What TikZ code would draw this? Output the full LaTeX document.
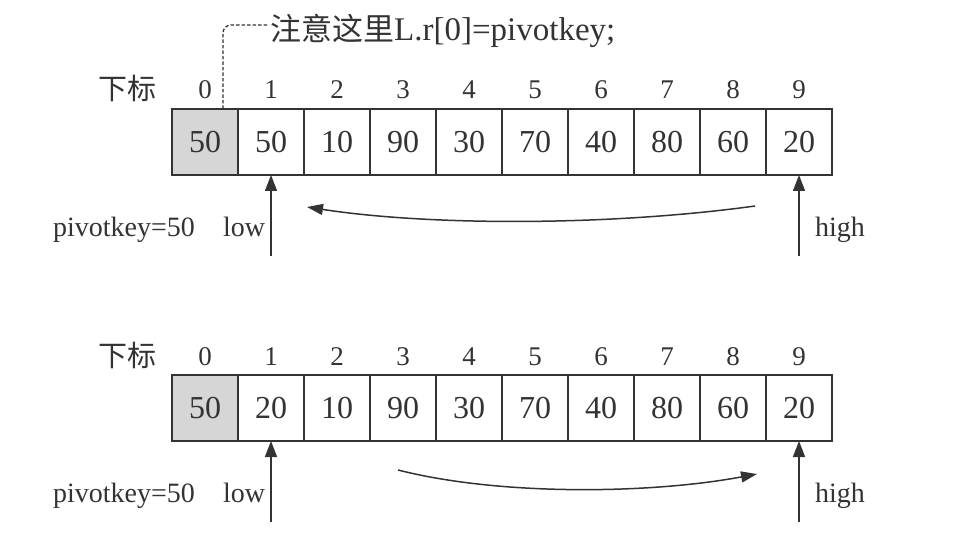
\documentclass[tikz,border=0pt]{standalone}
\usepackage{fontspec}
\setmainfont{Liberation Serif}
\newfontfamily\cjk{Noto Sans CJK SC}
\usetikzlibrary{arrows.meta}
\definecolor{ink}{HTML}{333333}
\definecolor{shade}{HTML}{D6D6D6}
\begin{document}
\begin{tikzpicture}[x=1pt,y=-1pt,
  cellbox/.style={draw=ink,line width=1.6pt,minimum width=66pt,minimum height=66pt,inner sep=0pt,outer sep=0pt,text=ink,font=\fontsize{32}{32}\selectfont},
  shadedbox/.style={cellbox,fill=shade},
  idx/.style={text=ink,font=\fontsize{27}{27}\selectfont,inner sep=0pt},
  lbl/.style={text=ink,font=\fontsize{28}{28}\selectfont,inner sep=0pt,anchor=base},
  hanzi/.style={text=ink,font=\cjk\fontsize{29}{29}\selectfont,inner sep=0pt},
  ptr/.style={draw=ink,line width=1.5pt,-{Triangle[length=16pt,width=12pt]}},
  bendarr/.style={draw=ink,line width=1.5pt,-{Triangle[length=16pt,width=11pt]}},
  dashline/.style={draw=ink,line width=1.3pt,dash pattern=on 3.5pt off 2pt,rounded corners=8pt}]
\useasboundingbox (0,0) rectangle (955,534);
% row 1
\foreach \v [count=\i from 0] in {50,50,10,90,30,70,40,80,60,20}{
  \ifnum\i=0
    \node[shadedbox] (a\i) at (205+66*\i,142) {\v};
  \else
    \node[cellbox] (a\i) at (205+66*\i,142) {\v};
  \fi
  \node[idx] (ai\i) at (205+66*\i,90) {\i};
}
\node[hanzi] (sub1) at (127,88) {下标};
% row 2
\foreach \v [count=\i from 0] in {50,20,10,90,30,70,40,80,60,20}{
  \ifnum\i=0
    \node[shadedbox] (b\i) at (205+66*\i,408) {\v};
  \else
    \node[cellbox] (b\i) at (205+66*\i,408) {\v};
  \fi
  \node[idx] (bi\i) at (205+66*\i,357) {\i};
}
\node[hanzi] (sub2) at (127,355) {下标};
% note
\node[anchor=west,inner sep=0pt,text=ink] (note) at (270,31)
  {{\cjk\fontsize{31}{31}\selectfont 注意这里}{\fontsize{33}{33}\selectfont L.r[0]=pivotkey;}};
\coordinate (dstart) at (223,109);
\coordinate (dend) at (269,25);
\draw[dashline] (dstart) |- (dend);
% row 1 pointers
\coordinate (low1) at (271,256);
\coordinate (high1) at (799,256);
\draw[ptr] (low1) -- (a1.south);
\draw[ptr] (high1) -- (a9.south);
\node[lbl] (pk1) at (124,237) {pivotkey=50};
\node[lbl] (lw1) at (244,237) {low};
\node[lbl] (hi1) at (840,237) {high};
\coordinate (s1) at (755,206);
\coordinate (e1) at (307,207);
\draw[bendarr] (s1) .. controls (610,226) and (430,226) .. (e1);
% row 2 pointers
\coordinate (low2) at (271,522);
\coordinate (high2) at (799,522);
\draw[ptr] (low2) -- (b1.south);
\draw[ptr] (high2) -- (b9.south);
\node[lbl] (pk2) at (124,502) {pivotkey=50};
\node[lbl] (lw2) at (244,502) {low};
\node[lbl] (hi2) at (840,502) {high};
\coordinate (s2) at (398,470);
\coordinate (e2) at (757,474);
\draw[bendarr] (s2) .. controls (500,496) and (650,494) .. (e2);
\end{tikzpicture}
\end{document}
